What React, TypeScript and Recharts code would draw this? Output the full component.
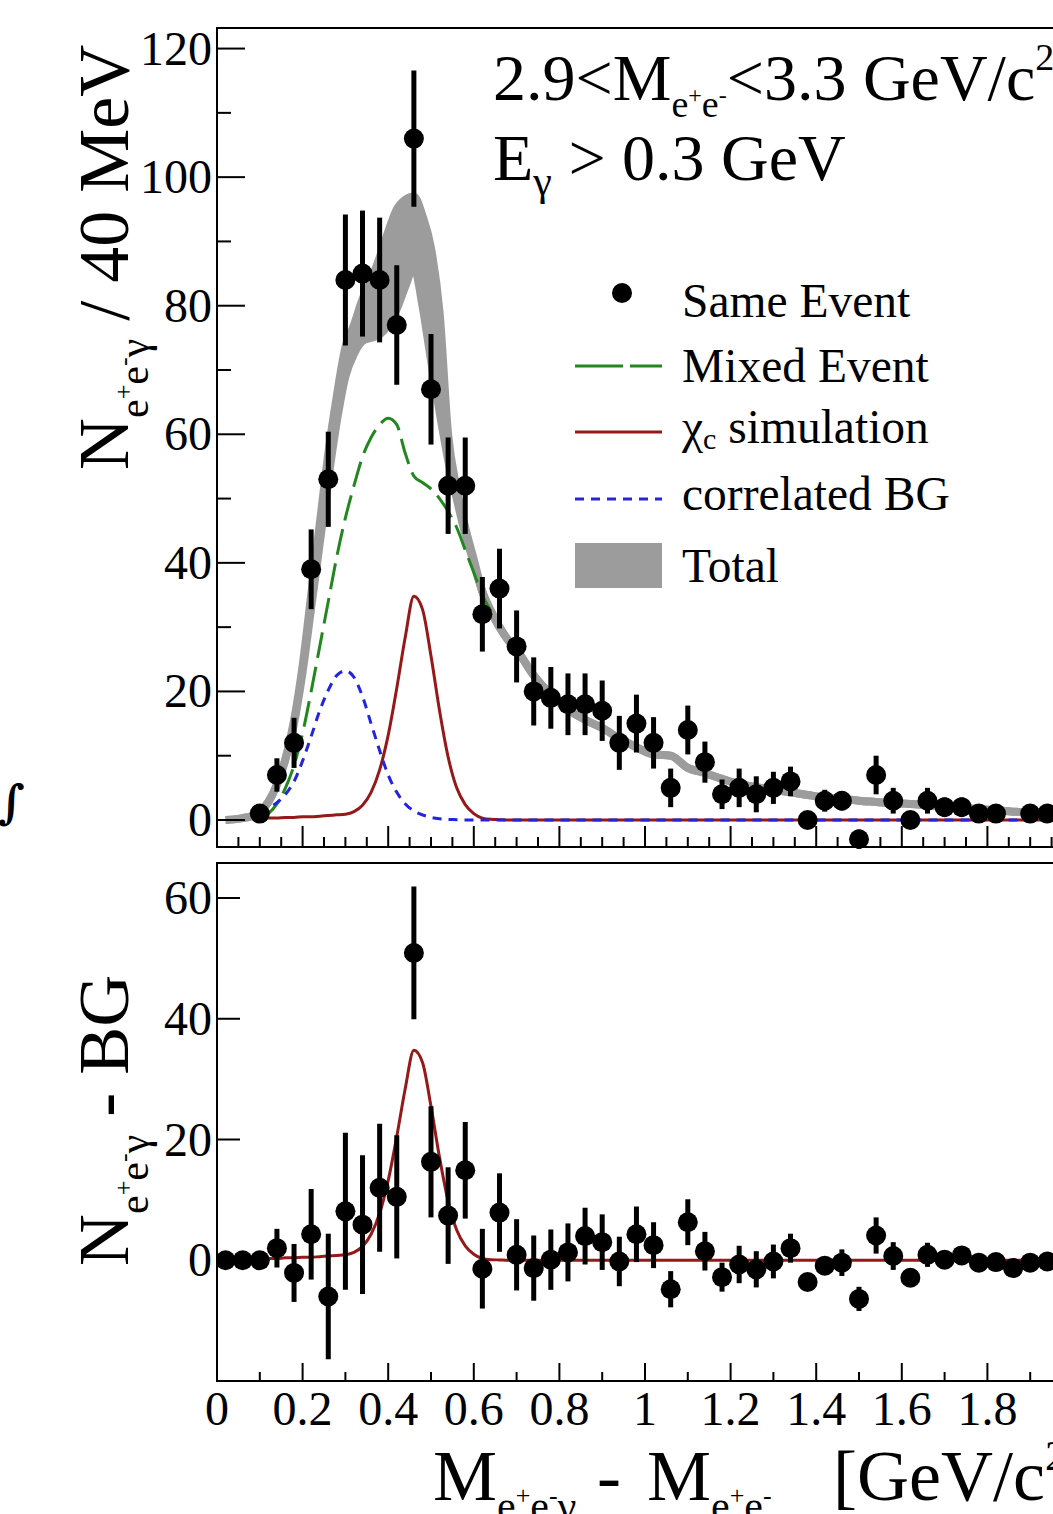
import React from 'react';
import { ComposedChart, Line, Area, Scatter, XAxis, YAxis, ErrorBar } from 'recharts';

// ---------------- data ----------------
// Same Event (top panel): bin centre, counts, error
const seX = [0.10,0.14,0.18,0.22,0.26,0.30,0.34,0.38,0.42,0.46,0.50,0.54,0.58,0.62,0.66,0.70,0.74,0.78,0.82,
  0.86,0.90,0.94,0.98,1.02,1.06,1.10,1.14,1.18,1.22,1.26,1.30,1.34,1.38,1.42,1.46,1.50,1.54,1.58,1.62,1.66,1.70,1.74,1.78,1.82,
  1.90,1.94,1.98];
const seY = [1,7,12,39,53,84,85,84,77,106,67,52,52,32,36,27,20,19,18,
  18,17,12,15,12,5,14,9,4,5,4,5,6,0,3,3,-3,7,3,0,3,2,2,1,1,
  1,1,1];
const seErr = [1.0,2.6,3.9,6.2,7.4,10.2,9.8,9.7,9.3,10.6,8.6,7.5,7.5,5.8,6.2,5.6,5.3,4.8,4.8,
  4.8,4.7,4.2,4.5,4.0,3.0,3.8,3.2,2.3,3.0,2.8,2.5,2.3,0,1.7,1.5,1.5,3.0,2.0,0,2.0,1.5,1.5,1.0,1.0,
  1.0,1.0,1.0];

// N - BG (bottom panel)
const bsX = [0.02,0.06,0.10,0.14,0.18,0.22,0.26,0.30,0.34,0.38,0.42,0.46,0.50,0.54,0.58,0.62,0.66,0.70,0.74,0.78,
  0.82,0.86,0.90,0.94,0.98,1.02,1.06,1.10,1.14,1.18,1.22,1.26,1.30,1.34,1.38,1.42,1.46,1.50,1.54,1.58,
  1.62,1.66,1.70,1.74,1.78,1.82,1.86,1.90,1.94,1.98];
const bsY = [0,0,0,2.0,-2.1,4.3,-6.0,8.1,5.9,12,10.5,50.9,16.3,7.4,14.9,-1.4,7.9,0.9,-1.3,0.1,
  1.3,4.0,3.0,-0.2,4.3,2.5,-4.8,6.3,1.5,-2.8,-0.7,-1.5,-0.2,2.0,-3.6,-0.9,-0.4,-6.4,4.1,0.7,
  -2.9,0.9,0.1,0.8,-0.4,-0.3,-1.3,-0.4,-0.2,0];
const bsErr = [0,0,0,3.2,4.8,7.5,10.4,13,11.5,10.6,10.2,11,9.2,8,8,6.6,6.5,5.9,5.4,5,
  4.8,4.7,4.6,4.1,4.6,3.8,3,3.8,3.2,2.4,3.1,3,2.8,2.4,0,0,2.2,2,3,2.3,
  0,2,1.5,1.5,1,1,1,1,1,0];

// curves sampled along x
const curveX = [0.02,0.04,0.06,0.08,0.10,0.12,0.14,0.16,0.18,0.20,0.22,0.24,0.26,0.28,0.30,0.32,0.34,0.36,0.38,0.40,
  0.42,0.44,0.46,0.48,0.50,0.52,0.54,0.56,0.58,0.60,0.62,0.64,0.66,0.68,0.70,
  0.74,0.78,0.82,0.86,0.90,0.94,0.98,1.02,1.06,1.10,1.14,1.18,1.22,1.26,1.30,1.34,1.38,1.42,1.46,1.50,
  1.54,1.58,1.62,1.66,1.70,1.74,1.78,1.82,1.86,1.90,1.94,1.98,2.00];
// mixed event: visible part only (beyond 0.64 it lies under the Total band)
const mixedEvent = [null,null,null,null,0.3,1.0,2.5,5.0,8.5,13.5,20,27,34,41,47,52,56.5,59.5,61.5,62.5,
  61.5,57,53.5,52.5,51.5,50,48,45.5,42,38.5,35,32.5,null,null,null,
  null,null,null,null,null,null,null,null,null,null,null,null,null,null,null,null,null,null,null,null,
  null,null,null,null,null,null,null,null,null,null,null,null,null];
const corrBG = [null,null,null,null,1.0,1.8,2.7,4.0,6.0,9.2,13.0,17.0,20.2,22.5,23.2,22.2,19.2,15.0,10.8,7.0,
  4.3,2.5,1.4,0.8,0.4,0.2,0.1,0.05,0,0,0,0,0,0,0,
  0,0,0,0,0,0,0,0,0,0,0,0,0,0,0,0,0,0,0,0,
  0,0,0,0,0,0,0,0,0,0,0,0,0];
const chicSim = [null,null,null,null,0.2,0.3,0.3,0.4,0.4,0.5,0.5,0.6,0.7,0.8,0.9,1.3,2.3,4.3,7.8,13.2,
  20.5,28.5,34.8,32.8,25.5,17.0,9.8,5.0,2.4,1.0,0.3,0.1,0.05,0,0,
  0,0,0,0,0,0,0,0,0,0,0,0,0,0,0,0,0,0,0,0,
  0,0,0,0,0,0,0,0,0,0,0,0,0];
const totalLow = [0,0.1,0.3,0.6,1.3,2.8,5.5,9.5,15,23,33,43,53,62,69,72.5,74.5,75,75.5,77,
  79.5,83,86,80,71.5,63.5,56,50,44.5,40,35.5,32.5,30,28,26.5,
  22.5,19.5,17.2,15.6,14.3,12.7,11.3,10.2,10.0,8.1,7.3,6.4,5.6,5.1,4.7,4.3,3.9,3.5,3.3,3.0,
  2.8,2.6,2.5,2.3,2.0,1.9,1.7,1.5,1.3,1.2,1.1,1.0,1.0];
const totalHigh = [0,0.1,0.3,0.6,1.3,2.8,5.5,9.5,15.5,24,35,46,57,66,73.5,77,81,84,87.5,91.5,
  95,96.5,97,94,89,79,60,51.5,45.5,40.5,35.5,32.5,30,28,26.5,
  22.5,19.5,17.2,15.6,14.3,12.7,11.3,10.2,10.0,8.1,7.3,6.4,5.6,5.1,4.7,4.3,3.9,3.5,3.3,3.0,
  2.8,2.6,2.5,2.3,2.0,1.9,1.7,1.5,1.3,1.2,1.1,1.0,1.0];

// axis ticks
const topXTicks = [0,0.05,0.1,0.15,0.2,0.25,0.3,0.35,0.4,0.45,0.5,0.55,0.6,0.65,0.7,0.75,0.8,0.85,0.9,0.95,
  1,1.05,1.1,1.15,1.2,1.25,1.3,1.35,1.4,1.45,1.5,1.55,1.6,1.65,1.7,1.75,1.8,1.85,1.9,1.95,2];
const botXTicks = [0,0.1,0.2,0.3,0.4,0.5,0.6,0.7,0.8,0.9,1,1.1,1.2,1.3,1.4,1.5,1.6,1.7,1.8,1.9,2];
const botXLabels = ['0','0.2','0.4','0.6','0.8','1','1.2','1.4','1.6','1.8'];
const topYTicks = [0,10,20,30,40,50,60,70,80,90,100,110,120];
const botYTicks = [0,20,40,60];

// ---------------- layout ----------------
const SERIF = '"Liberation Serif", "Times New Roman", serif';
const W = 1100;
const H = 1514;
const PL = 217;           // plot left
const PR = 1073;          // plot right
const TOP_T = 28, TOP_B = 847;
const BOT_T = 863, BOT_B = 1381;
const XAH = 30;

const GREEN = '#23871f';
const RED = '#961818';
const BLUE = '#2323e0';
const GRAY = '#9c9c9c';

const curveData = curveX.map((x, i) => ({
  x,
  green: mixedEvent[i],
  blue: corrBG[i],
  red: chicSim[i],
  band: [totalLow[i], totalHigh[i]],
}));
const seData = seX.map((x, i) => ({ x, y: seY[i], err: seErr[i] }));
const bsData = bsX.map((x, i) => ({ x, y: bsY[i], err: bsErr[i] }));
const redData = curveX.map((x, i) => ({ x, red: x < 0.115 ? null : chicSim[i] }));

const isMajorX = (v: number) => Math.abs(v * 5 - Math.round(v * 5)) < 1e-6;
const fmtX = (v: number) => (Math.abs(v - Math.round(v)) < 1e-6 ? String(Math.round(v)) : v.toFixed(1));

const makeXTick = (bottom: number, majLen: number, minLen: number, labels: string[] | null) => (props: any) => {
  const { x, payload } = props;
  const v = payload.value as number;
  const major = isMajorX(v);
  const lab = labels && major && labels.includes(fmtX(v)) ? fmtX(v) : null;
  return (
    <g>
      <line x1={x} x2={x} y1={bottom} y2={bottom - (major ? majLen : minLen)} stroke="#000" strokeWidth={2} />
      {lab ? (
        <text x={x} y={bottom + 44} textAnchor="middle" fontSize={48} fontFamily={SERIF} fill="#000">
          {lab}
        </text>
      ) : null}
    </g>
  );
};

const makeYTick = (majStep: number, majLen: number, minLen: number) => (props: any) => {
  const { y, payload } = props;
  const v = payload.value as number;
  const major = v % majStep === 0;
  return (
    <g>
      <line x1={PL} x2={PL + (major ? majLen : minLen)} y1={y} y2={y} stroke="#000" strokeWidth={2} />
      {major ? (
        <text x={PL - 5} y={y + 16} textAnchor="end" fontSize={48} fontFamily={SERIF} fill="#000">
          {v}
        </text>
      ) : null}
    </g>
  );
};

const Dot = (props: any) => {
  const { cx, cy } = props;
  if (cx == null || cy == null) return <g />;
  return <circle cx={cx} cy={cy} r={10} fill="#000" />;
};

type Piece = { t: string; s: number; o?: number; x?: number };
function Rich({ x, y, pieces, transform }: { x: number; y: number; pieces: Piece[]; transform?: string }) {
  let prev = 0;
  return (
    <text x={x} y={y} fontFamily={SERIF} fill="#000" transform={transform} style={{ whiteSpace: 'pre' }}>
      {pieces.map((p, i) => {
        const o = p.o ?? 0;
        const dy = o - prev;
        prev = o;
        return (
          <tspan key={i} x={p.x} dy={dy} fontSize={p.s}>
            {p.t}
          </tspan>
        );
      })}
    </text>
  );
}

const subEEG = (s: number, off: number, withGamma: boolean): Piece[] => {
  const sup = Math.round(s * 0.62);
  const up = off - Math.round(s * 0.38);
  const arr: Piece[] = [
    { t: 'e', s, o: off },
    { t: '+', s: sup, o: up },
    { t: 'e', s, o: off },
    { t: '-', s: sup, o: up },
  ];
  if (withGamma) arr.push({ t: 'γ', s, o: off });
  return arr;
};

function TopChart() {
  return (
    <ComposedChart
      width={W}
      height={H}
      data={curveData}
      margin={{ top: TOP_T, right: W - PR, left: 0, bottom: H - TOP_B - XAH }}
    >
      <XAxis
        dataKey="x"
        type="number"
        domain={[0, 2]}
        allowDataOverflow
        ticks={topXTicks}
        interval={0}
        height={XAH}
        axisLine={false}
        tickLine={false}
        tick={makeXTick(TOP_B, 21, 10, null)}
      />
      <YAxis
        type="number"
        domain={[-4.2, 123.2]}
        allowDataOverflow
        ticks={topYTicks}
        interval={0}
        width={PL}
        axisLine={false}
        tickLine={false}
        tick={makeYTick(20, 28, 14)}
      />
      <Area dataKey="band" type="monotone" stroke={GRAY} strokeWidth={8} fill={GRAY} fillOpacity={1} dot={false} activeDot={false} isAnimationActive={false} />
      <Line dataKey="green" type="monotone" stroke={GREEN} strokeWidth={3} strokeDasharray="26 9" dot={false} activeDot={false} isAnimationActive={false} />
      <Line dataKey="red" type="monotone" stroke={RED} strokeWidth={3} dot={false} activeDot={false} isAnimationActive={false} />
      <Line dataKey="blue" type="monotone" stroke={BLUE} strokeWidth={3} strokeDasharray="9 7" dot={false} activeDot={false} isAnimationActive={false} />
      <Scatter data={seData} dataKey="y" shape={<Dot />} isAnimationActive={false}>
        <ErrorBar dataKey="err" direction="y" width={0} stroke="#000" strokeWidth={5} isAnimationActive={false} />
      </Scatter>
    </ComposedChart>
  );
}

function BottomChart() {
  return (
    <ComposedChart
      width={W}
      height={H}
      data={redData}
      margin={{ top: BOT_T, right: W - PR, left: 0, bottom: H - BOT_B - XAH }}
    >
      <XAxis
        dataKey="x"
        type="number"
        domain={[0, 2]}
        allowDataOverflow
        ticks={botXTicks}
        interval={0}
        height={XAH}
        axisLine={false}
        tickLine={false}
        tick={makeXTick(BOT_B, 18, 9, botXLabels)}
      />
      <YAxis
        type="number"
        domain={[-20, 65.8]}
        allowDataOverflow
        ticks={botYTicks}
        interval={0}
        width={PL}
        axisLine={false}
        tickLine={false}
        tick={makeYTick(20, 23, 23)}
      />
      <Line dataKey="red" type="monotone" stroke={RED} strokeWidth={3} dot={false} activeDot={false} isAnimationActive={false} />
      <Scatter data={bsData} dataKey="y" shape={<Dot />} isAnimationActive={false}>
        <ErrorBar dataKey="err" direction="y" width={0} stroke="#000" strokeWidth={5} isAnimationActive={false} />
      </Scatter>
    </ComposedChart>
  );
}

function Overlay() {
  const LX = 682;
  const LF = 47.5;
  return (
    <svg width={1053} height={1514} style={{ position: 'absolute', left: 0, top: 0, pointerEvents: 'none' }}>
      {/* frames */}
      <rect x={PL} y={TOP_T} width={PR - PL} height={TOP_B - TOP_T} fill="none" stroke="#000" strokeWidth={2} />
      <rect x={PL} y={BOT_T} width={PR - PL} height={BOT_B - BOT_T} fill="none" stroke="#000" strokeWidth={2} />

      {/* top-right annotation */}
      <Rich
        x={493}
        y={100}
        pieces={[
          { t: '2.9<M', s: 66 },
          ...subEEG(38, 17, false),
          { t: '<3.3 GeV/c', s: 66, o: 0 },
          { t: '2', s: 38, o: -30 },
        ]}
      />
      <Rich
        x={493}
        y={180}
        pieces={[
          { t: 'E', s: 66 },
          { t: 'γ', s: 42, o: 15 },
          { t: ' > 0.3 GeV', s: 66, o: 0 },
        ]}
      />

      {/* legend */}
      <circle cx={622} cy={293} r={10} fill="#000" />
      <line x1={575} x2={662} y1={366} y2={366} stroke={GREEN} strokeWidth={3} strokeDasharray="48 7" />
      <line x1={575} x2={662} y1={432} y2={432} stroke={RED} strokeWidth={3} />
      <line x1={575} x2={662} y1={499} y2={499} stroke={BLUE} strokeWidth={3} strokeDasharray="9 7" />
      <rect x={575} y={543} width={87} height={45} fill={GRAY} />
      <text x={LX} y={317} fontSize={LF} fontFamily={SERIF}>Same Event</text>
      <text x={LX} y={382} fontSize={LF} fontFamily={SERIF}>Mixed Event</text>
      <Rich x={LX} y={443} pieces={[{ t: 'χ', s: LF }, { t: 'c', s: 30, o: 6 }, { t: ' simulation', s: LF, o: 0 }]} />
      <text x={LX} y={510} fontSize={LF} fontFamily={SERIF}>correlated BG</text>
      <text x={LX} y={582} fontSize={LF} fontFamily={SERIF}>Total</text>

      {/* y titles */}
      <Rich
        x={0}
        y={0}
        transform="translate(128,470) rotate(-90)"
        pieces={[{ t: 'N', s: 72 }, ...subEEG(42, 20, true), { t: ' / 40 MeV', s: 72, o: 0 }]}
      />
      <Rich
        x={0}
        y={0}
        transform="translate(128,1266) rotate(-90)"
        pieces={[{ t: 'N', s: 72 }, ...subEEG(42, 20, true), { t: ' - BG', s: 72, o: 0 }]}
      />

      {/* x title */}
      <Rich
        x={433}
        y={1500}
        pieces={[
          { t: 'M', s: 72 },
          ...subEEG(42, 20, true),
          { t: '-', s: 72, o: 0, x: 597 },
          { t: 'M', s: 72, o: 0, x: 647 },
          ...subEEG(42, 20, false),
          { t: '[GeV/c', s: 72, o: 0, x: 833 },
          { t: '2', s: 42, o: -30 },
        ]}
      />

      {/* stray glyph at left edge */}
      <text x={-2} y={818} fontSize={46} fontFamily='"DejaVu Serif", serif' fontStyle="italic" fontWeight="bold">∫</text>
    </svg>
  );
}

export default function App() {
  return (
    <div
      style={{
        position: 'fixed',
        left: 0,
        top: 0,
        width: 1053,
        height: 1514,
        overflow: 'hidden',
        background: '#fff',
      }}
    >
      <div style={{ position: 'absolute', left: 0, top: 0 }}>
        <TopChart />
      </div>
      <div style={{ position: 'absolute', left: 0, top: 0 }}>
        <BottomChart />
      </div>
      <Overlay />
    </div>
  );
}
